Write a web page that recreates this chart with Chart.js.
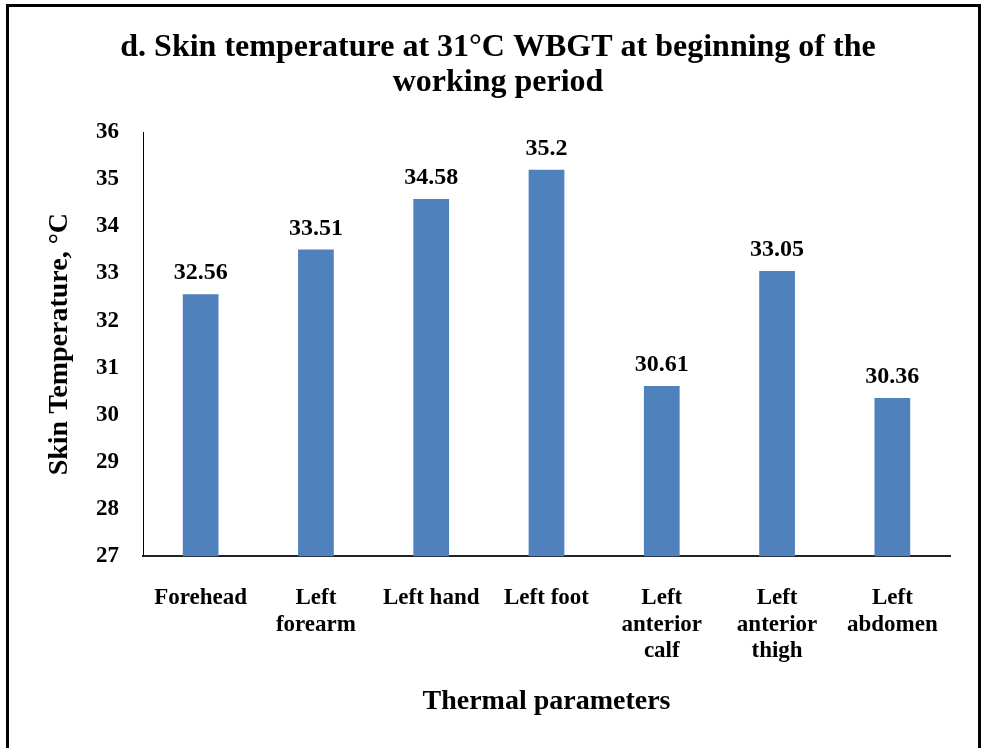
<!DOCTYPE html>
<html>
<head>
<meta charset="utf-8">
<script src="https://cdn.jsdelivr.net/npm/chart.js@4/dist/chart.umd.min.js"></script>
<style>
  body { margin: 0; background: #fff; overflow: hidden; }
  #frame {
    position: absolute; left: 6px; top: 4px; width: 969px; height: 780px;
    border: 3px solid #000; pointer-events: none;
  }
  canvas { position: absolute; left: 0; top: 0; }
</style>
</head>
<body>
<canvas id="skinChart" width="985" height="748"></canvas>
<div id="frame"></div>
<script>
// chart data
const sites = [
    'Forehead',
    ['Left', 'forearm'],
    'Left hand',
    'Left foot',
    ['Left', 'anterior', 'calf'],
    ['Left', 'anterior', 'thigh'],
    ['Left', 'abdomen']
];
const temps = [32.56, 33.51, 34.58, 35.2, 30.61, 33.05, 30.36];
const yMin = 27;
const yMax = 36;

const serif = '"Liberation Serif", "Times New Roman", serif';

// draws the value above each bar (no datalabels plugin available offline)
const valueLabels = {
    id: 'valueLabels',
    afterDatasetsDraw(chart) {
        const ctx = chart.ctx;
        const meta = chart.getDatasetMeta(0);
        ctx.save();
        ctx.font = 'bold 24px ' + serif;
        ctx.fillStyle = '#000';
        ctx.textAlign = 'center';
        ctx.textBaseline = 'middle';
        meta.data.forEach((bar, i) => {
            ctx.fillText(String(temps[i]), bar.x, bar.y - 21);
        });
        ctx.restore();
    }
};

const ctx = document.getElementById('skinChart').getContext('2d');
const skinChart = new Chart(ctx, {
    type: 'bar',
    data: {
        labels: sites,
        datasets: [{
            label: 'Skin temperature',
            data: temps,
            backgroundColor: '#4F81BD',
            borderWidth: 0,
            categoryPercentage: 1,
            barPercentage: 0.31
        }]
    },
    options: {
        responsive: false,
        animation: false,
        layout: {
            padding: { left: 46, right: 35, top: 0, bottom: 0 }
        },
        plugins: {
            legend: { display: false },
            tooltip: { enabled: false },
            title: {
                display: true,
                text: ['d. Skin temperature at 31°C WBGT at beginning of the', 'working period'],
                color: '#000',
                font: { family: serif, size: 32, weight: 'bold', lineHeight: 1.094 },
                padding: { top: 30, bottom: 32 }
            }
        },
        scales: {
            x: {
                grid: { display: false, drawTicks: false },
                border: { display: true, color: '#222', width: 2 },
                ticks: {
                    color: '#000',
                    padding: 28,
                    maxRotation: 0,
                    autoSkip: false,
                    font: { family: serif, size: 23, weight: 'bold', lineHeight: 1.17 }
                },
                title: {
                    display: true,
                    text: 'Thermal parameters',
                    color: '#000',
                    font: { family: serif, size: 28, weight: 'bold', lineHeight: 1 },
                    padding: { top: -5, bottom: 32 }
                }
            },
            y: {
                min: yMin,
                max: yMax,
                grid: { display: false, drawTicks: false },
                border: { display: true, color: '#000', width: 1 },
                ticks: {
                    stepSize: 1,
                    color: '#000',
                    padding: 24,
                    font: { family: serif, size: 23, weight: 'bold' }
                },
                title: {
                    display: true,
                    text: 'Skin Temperature, °C',
                    color: '#000',
                    font: { family: serif, size: 28, weight: 'bold', lineHeight: 1 },
                    padding: { top: 0, bottom: -2 }
                }
            }
        }
    },
    plugins: [valueLabels]
});
</script>
</body>
</html>
